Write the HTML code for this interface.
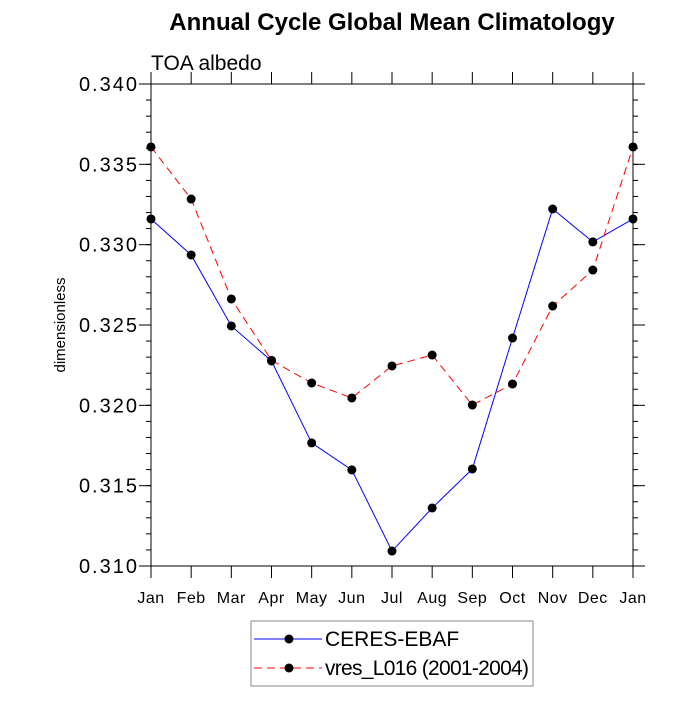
<!DOCTYPE html>
<html><head><meta charset="utf-8"><style>
body{margin:0;background:#fff;}
svg text{font-family:"Liberation Sans",Arial,sans-serif;}
</style></head><body>
<svg id="chart" width="700" height="700" xmlns="http://www.w3.org/2000/svg">
<text x="392" y="30" text-anchor="middle" font-size="24" font-weight="bold">Annual Cycle Global Mean Climatology</text>
<text x="151" y="70" font-size="21">TOA albedo</text>
<text transform="translate(65,325) rotate(-90)" text-anchor="middle" font-size="15">dimensionless</text>
<g id="axes"></g>
<g id="series"></g>
<g>
<rect x="251" y="621" width="282" height="65" fill="#fff" stroke="#888" stroke-width="1"/>
<line x1="254" y1="639" x2="322" y2="639" stroke="#0000ff" stroke-width="1"/>
<circle cx="289" cy="639" r="4.5" fill="#000"/>
<text x="325" y="646" font-size="21">CERES-EBAF</text>
<line x1="254" y1="668" x2="322" y2="668" stroke="#ff0000" stroke-width="1" stroke-dasharray="8,5"/>
<circle cx="289" cy="668" r="4.5" fill="#000"/>
<text x="325" y="675" font-size="21" textLength="204">vres_L016 (2001-2004)</text>
</g>
</svg>
<script>
const months=["Jan","Feb","Mar","Apr","May","Jun","Jul","Aug","Sep","Oct","Nov","Dec","Jan"];
const ceres=[0.3316,0.32936,0.32494,0.32276,0.31766,0.31598,0.31093,0.31361,0.31604,0.32419,0.33222,0.33017,0.3316];
const vres=[0.33608,0.33284,0.32662,0.3228,0.32139,0.32046,0.32245,0.32313,0.32002,0.32133,0.32618,0.32842,0.33608];
const yTicks=[0.310,0.315,0.320,0.325,0.330,0.335,0.340];
const yTickLabels=["0.310","0.315","0.320","0.325","0.330","0.335","0.340"];
const L=151,R=633,T=84,B=566,ymin=0.310,ymax=0.340;
const NS="http://www.w3.org/2000/svg";
function X(i){return L+(R-L)*i/(months.length-1);}
function Y(v){return B-(v-ymin)/(ymax-ymin)*(B-T);}
function mk(tag,attrs,parent){const e=document.createElementNS(NS,tag);for(const k in attrs)e.setAttribute(k,attrs[k]);parent.appendChild(e);return e;}
const ax=document.getElementById('axes');
const fr=mk('rect',{x:L,y:T,width:R-L,height:B-T,fill:'none',stroke:'#000','stroke-width':1},ax);


months.forEach((m,i)=>{
  const x=X(i);
  mk('line',{x1:x,y1:B,x2:x,y2:B+12,stroke:'#000'},ax);
  mk('line',{x1:x,y1:T,x2:x,y2:T-12,stroke:'#000'},ax);
  const t=mk('text',{x:x,y:B+37,'text-anchor':'middle','font-size':16,'letter-spacing':0.5},ax);
  t.textContent=m;
  
  
});
for(let v=ymin;v<=ymax+1e-9;v+=0.001){
  const y=Y(v);
  mk('line',{x1:L,y1:y,x2:L-5,y2:y,stroke:'#000'},ax);
  mk('line',{x1:R,y1:y,x2:R+5,y2:y,stroke:'#000'},ax);
}
yTicks.forEach((v,i)=>{
  const y=Y(v);
  mk('line',{x1:L,y1:y,x2:L-12,y2:y,stroke:'#000'},ax);
  mk('line',{x1:R,y1:y,x2:R+12,y2:y,stroke:'#000'},ax);
  const t=mk('text',{x:L-12,y:y+7,'text-anchor':'end','font-size':20,'letter-spacing':2},ax);
  t.textContent=yTickLabels[i];
  
  
});
const sg=document.getElementById('series');
function draw(vals,color,dash,name){
  const p=mk('polyline',{points:vals.map((v,i)=>X(i)+','+Y(v)).join(' '),fill:'none',stroke:color,'stroke-width':1,'stroke-dasharray':dash},sg);
  
  
  vals.forEach((v,i)=>{
    const c=mk('circle',{cx:X(i),cy:Y(v),r:4.5,fill:'#000'},sg);
    
    
  });
}
draw(ceres,'#0000ff','none','ceres');
draw(vres,'#ff0000','8,5','vres');
</script>
</body></html>
